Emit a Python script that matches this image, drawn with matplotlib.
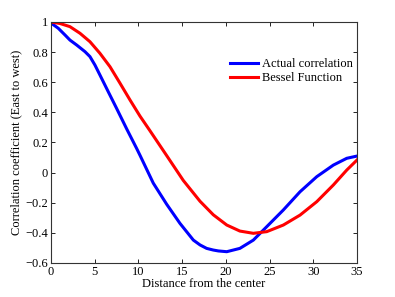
import matplotlib
matplotlib.use('Agg')
import matplotlib.pyplot as plt

# values
dist_actual = [0, 0.08, 0.84, 1.6, 2.17, 2.94, 3.89, 4.46, 5.03, 5.6, 6.55, 7.5, 8.66,
               9.8, 10.18, 11.7, 13.23, 14.75, 16.28, 17.04, 17.8, 18.56, 19.14, 20.1,
               21.6, 23.14, 24.67, 26.57, 28.48, 30.39, 32.29, 33.82, 35]
corr_actual = [1.0, 0.99, 0.958, 0.914, 0.88, 0.847, 0.803, 0.77, 0.714, 0.648, 0.537,
               0.427, 0.29, 0.16, 0.115, -0.07, -0.21, -0.337, -0.448, -0.48, -0.503,
               -0.514, -0.52, -0.525, -0.503, -0.448, -0.359, -0.248, -0.127, -0.027,
               0.05, 0.095, 0.11]

dist_bessel = [0, 1.03, 2.17, 3.32, 4.46, 5.6, 6.75, 7.9, 9.04, 10.18, 11.32, 13.23,
               15.13, 17.04, 18.56, 20.1, 21.6, 23.14, 24.67, 26.57, 28.48, 30.39,
               32.29, 33.82, 35]
corr_bessel = [1.0, 0.99, 0.969, 0.925, 0.869, 0.792, 0.703, 0.593, 0.482, 0.375, 0.278,
               0.113, -0.052, -0.19, -0.28, -0.348, -0.388, -0.403, -0.392, -0.348,
               -0.282, -0.193, -0.082, 0.017, 0.084]

plt.rcParams['font.family'] = ['Liberation Serif', 'DejaVu Serif']
plt.rcParams['font.size'] = 9

fig = plt.figure(figsize=(3.95, 2.97), dpi=100)
ax = fig.add_axes([0.129, 0.1145, 0.775, 0.8115])

ax.plot(dist_actual, corr_actual, color='#0000ff', lw=2.2, label='Actual correlation')
ax.plot(dist_bessel, corr_bessel, color='#ff0000', lw=2.2, label='Bessel Function')

ax.set_xlim(0, 35)
ax.set_ylim(-0.6, 1)
ax.set_xticks(range(0, 36, 5))
ax.set_yticks([-0.6, -0.4, -0.2, 0, 0.2, 0.4, 0.6, 0.8, 1])
ax.set_yticklabels(['\u22120.6', '\u22120.4', '\u22120.2', '0', '0.2', '0.4', '0.6', '0.8', '1'])
ax.tick_params(direction='in', top=True, right=True, length=3, width=0.6, pad=2)
for s in ax.spines.values():
    s.set_linewidth(0.8)
    s.set_color('#333333')

ax.set_xlabel('Distance from the center', labelpad=0)
ax.set_ylabel('Correlation coefficient (East to west)', labelpad=2)

ax.legend(loc='upper left', bbox_to_anchor=(0.57, 0.87), frameon=False,
          handlelength=2.2, handletextpad=0.3, labelspacing=0.15, borderaxespad=0)

fig.savefig('out.png', dpi=100)
